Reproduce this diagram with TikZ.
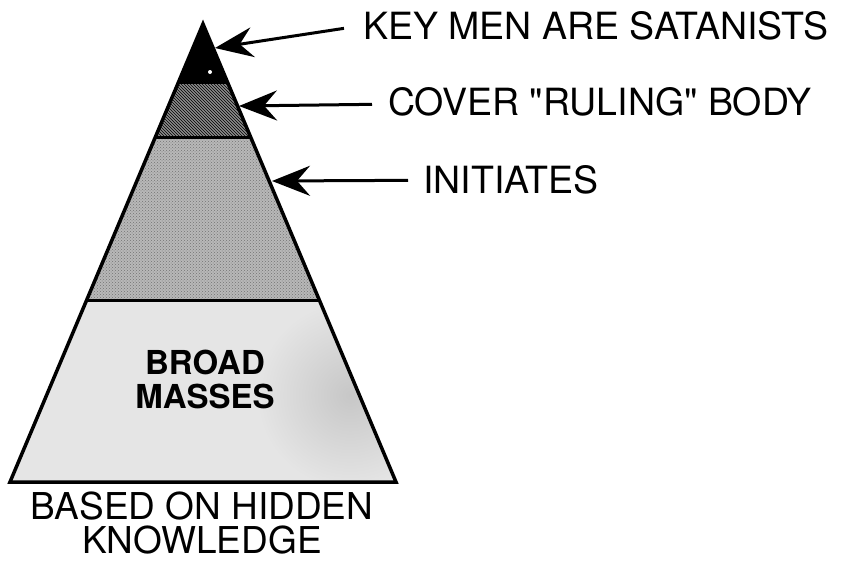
\documentclass[tikz,border=0pt]{standalone}
\usepackage{fontspec}
\setmainfont{TeX Gyre Heros}
\usetikzlibrary{patterns}
\usetikzlibrary{arrows.meta}

\tikzset{
  lbl/.style={font=\fontsize{37.5}{34}\selectfont, inner sep=0pt},
  arr/.style={line width=3pt, -{Stealth[length=38pt,width=30pt,inset=13pt]}}
}

\begin{document}
\begin{tikzpicture}[x=1pt,y=-1pt]
\useasboundingbox (0,0) rectangle (841,563);
% corners of the pyramid
\coordinate (apex) at (203,24);
\coordinate (bl) at (10,482);
\coordinate (br) at (396,482);
% layer edges
\coordinate (l1) at (178.6,82);  \coordinate (r1) at (227.4,82);
\coordinate (l2) at (155.4,137); \coordinate (r2) at (250.6,137);
\coordinate (l3) at (86.7,300);  \coordinate (r3) at (319.3,300);
% arrow tips
\coordinate (tip1) at (215,48);
\coordinate (tip2) at (239,106);
\coordinate (tip3) at (272,181);

\fill[black] (apex) -- (r1) -- (l1) -- cycle;
\fill[white] (210,72) circle (2);
\fill[black!45] (l1) -- (r1) -- (r2) -- (l2) -- cycle;
\fill[pattern=north west lines] (l1) -- (r1) -- (r2) -- (l2) -- cycle;
\fill[black!28] (l2) -- (r2) -- (r3) -- (l3) -- cycle;
\fill[pattern=crosshatch dots, pattern color=black!55] (l2) -- (r2) -- (r3) -- (l3) -- cycle;
\fill[black!10] (l3) -- (r3) -- (br) -- (bl) -- cycle;
\begin{scope} % darker patch on the right
\clip (l3) -- (r3) -- (br) -- (bl) -- cycle;
\shade[inner color=black!22, outer color=black!10] (350,395) circle (95);
\end{scope}

\draw[line width=3pt] (l1) -- (r1);
\draw[line width=3pt] (l2) -- (r2);
\draw[line width=3pt] (l3) -- (r3);
\draw[line width=3.5pt, line join=miter] (apex) -- (br) -- (bl) -- cycle;

\node[lbl, anchor=base west] (key) at (363,39) {KEY MEN ARE SATANISTS};
\node[lbl, anchor=base west] (cover) at (388,115) {COVER \textquotedbl RULING\textquotedbl{} BODY};
\node[lbl, anchor=base west] (init) at (423,193) {INITIATES};
\node[lbl, font=\bfseries\fontsize{33}{34}\selectfont, anchor=north, align=center] (mass) at (205,350) {BROAD\\MASSES};
\node[lbl, font=\fontsize{37}{34}\selectfont, anchor=north, align=center] (hidden) at (202,492) {BASED ON HIDDEN\\KNOWLEDGE};

\draw[arr] ([xshift=-19pt,yshift=-3pt]key.west) -- (tip1);
\draw[arr] ([xshift=-16pt,yshift=-3pt]cover.west) -- (tip2);
\draw[arr] ([xshift=-15pt,yshift=-1pt]init.west) -- (tip3);
\end{tikzpicture}
\end{document}
